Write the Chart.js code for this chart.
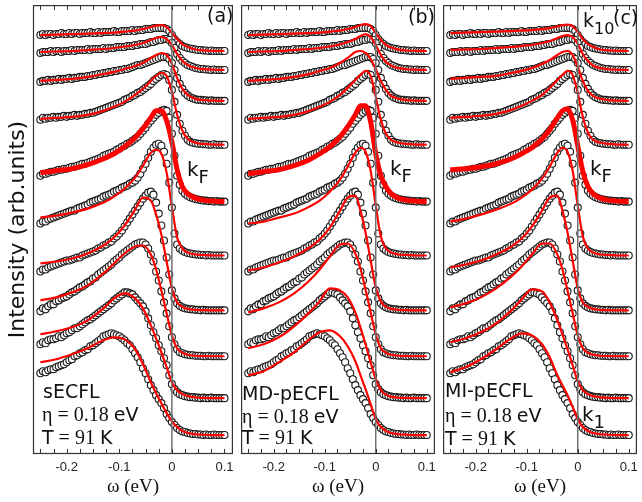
<!DOCTYPE html>
<html><head><meta charset="utf-8">
<script src="https://cdn.jsdelivr.net/npm/chart.js@4.4.1/dist/chart.umd.min.js"></script>
<style>
html,body{margin:0;padding:0;background:#fff;}
#wrap{position:relative;width:642px;height:502px;overflow:hidden;background:#fff;}
canvas{position:absolute;top:0;}
</style></head>
<body><div id="wrap">
<canvas id="ca" width="238" height="502" style="left:0px"></canvas>
<canvas id="cb" width="204" height="502" style="left:236px"></canvas>
<canvas id="cc" width="204" height="502" style="left:438px"></canvas>
</div>
<script>
// energy grid of the measured EDCs (eV)
const omega = [-0.25,-0.245,-0.24,-0.235,-0.23,-0.225,-0.22,-0.215,-0.21,-0.205,-0.2,-0.195,-0.19,-0.185,-0.18,-0.175,-0.17,-0.165,-0.16,-0.155,-0.15,-0.145,-0.14,-0.135,-0.13,-0.125,-0.12,-0.115,-0.11,-0.105,-0.1,-0.095,-0.09,-0.085,-0.08,-0.075,-0.07,-0.065,-0.06,-0.055,-0.05,-0.045,-0.04,-0.035,-0.03,-0.025,-0.02,-0.015,-0.01,-0.005,0,0.005,0.01,0.015,0.02,0.025,0.03,0.035,0.04,0.045,0.05,0.055,0.06,0.065,0.07,0.075,0.08,0.085,0.09,0.095,0.1];

// measured EDC intensities (arb. units), k1 (bottom) .. k10 (top)
const edcK1 = [6.2,6.4,6.3,6.5,6.6,6.6,6.8,6.9,7.0,7.1,7.3,7.5,7.6,7.9,8.0,8.2,8.3,8.5,8.6,8.9,9.0,9.2,9.4,9.6,9.9,10.0,10.1,10.2,10.1,10.0,9.9,9.7,9.5,9.2,9.0,8.6,8.2,7.8,7.3,6.7,6.2,5.6,5.0,4.5,4.0,3.6,3.2,2.7,2.1,1.7,1.3,1.0,0.7,0.5,0.35,0.3,0.2,0.15,0.1,0.1,0.05,0.05,0,0.05,0,0,0.05,0,0,0,0];
const edcK2 = [5.4,5.6,5.5,5.8,5.9,5.9,6.0,6.2,6.1,6.3,6.5,6.6,6.8,7.0,7.0,7.2,7.4,7.6,7.8,7.9,8.1,8.3,8.5,8.7,8.9,9.1,9.3,9.5,9.8,10.0,10.2,10.4,10.6,10.6,10.5,10.4,10.1,9.8,9.5,9.2,8.7,8.0,7.3,6.6,6.0,5.3,4.7,4.0,3.3,2.3,1.4,0.9,0.6,0.4,0.3,0.2,0.15,0.1,0.1,0.05,0.05,0,0.05,0,0,0.05,0,0,0,0,0];
const edcK3 = [4.5,4.8,4.7,5.0,5.2,5.2,5.5,5.6,5.8,5.9,6.0,6.2,6.4,6.5,6.7,6.9,7.0,7.2,7.4,7.5,7.8,7.9,8.2,8.4,8.6,8.8,9.0,9.2,9.5,9.7,9.9,10.2,10.4,10.6,10.8,11.0,11.2,11.3,11.4,11.4,11.2,10.8,10.2,9.5,8.5,7.6,6.5,5.4,4.3,3.0,1.9,1.2,0.7,0.4,0.3,0.2,0.15,0.1,0.1,0.05,0.05,0.05,0,0,0.05,0,0,0,0,0,0];
const edcK4 = [3.9,4.1,4.1,4.3,4.4,4.5,4.6,4.7,4.8,4.9,5.0,5.0,5.1,5.2,5.3,5.3,5.5,5.6,5.7,5.8,5.9,6.0,6.2,6.3,6.5,6.6,6.8,6.9,7.2,7.4,7.7,8.0,8.4,8.8,9.2,9.6,10.0,10.4,10.8,11.2,11.5,11.8,11.9,11.6,10.8,9.7,8.5,7.0,5.3,3.6,2.0,1.2,0.7,0.45,0.3,0.2,0.15,0.1,0.1,0.05,0.05,0,0.05,0,0,0,0,0,0,0,0];
const edcK5 = [3.2,3.4,3.4,3.6,3.7,3.8,3.9,4.0,4.1,4.2,4.3,4.4,4.5,4.5,4.7,4.8,4.9,5.0,5.1,5.3,5.4,5.5,5.6,5.7,5.9,6.0,6.1,6.2,6.4,6.5,6.6,6.8,6.9,7.0,7.2,7.3,7.5,7.8,8.2,8.7,9.2,9.8,10.4,10.8,11.1,11.2,11.0,10.4,9.2,7.3,4.8,2.2,1.1,0.7,0.5,0.35,0.25,0.2,0.15,0.1,0.1,0.05,0.05,0,0.05,0,0,0,0,0,0];
const edcK6 = [2.6,2.8,2.8,2.9,3.0,3.0,3.1,3.2,3.2,3.3,3.3,3.4,3.5,3.5,3.6,3.7,3.8,3.8,3.9,4.0,4.1,4.2,4.3,4.4,4.6,4.7,4.8,4.9,5.0,5.2,5.3,5.5,5.6,5.8,5.9,6.1,6.3,6.5,6.8,7.1,7.4,7.8,8.1,8.4,8.7,8.9,9.1,9.2,9.1,8.4,6.8,4.6,2.6,1.7,1.1,0.8,0.6,0.45,0.35,0.25,0.2,0.15,0.1,0.1,0.05,0.05,0,0.05,0,0,0];
const edcK7 = [2.5,2.7,2.6,2.7,2.7,2.8,2.7,2.8,2.8,2.9,2.8,2.9,2.9,3.0,2.9,3.0,3.0,3.1,3.1,3.2,3.2,3.3,3.4,3.5,3.6,3.7,3.8,3.9,4.0,4.1,4.2,4.3,4.5,4.6,4.7,4.9,5.0,5.2,5.3,5.5,5.7,5.9,6.1,6.4,6.6,6.8,7.0,7.1,7.0,6.5,5.5,4.3,3.0,2.1,1.4,0.9,0.5,0.3,0.2,0.15,0.1,0.1,0.05,0.05,0,0,0.05,0,0,0,0];
const edcK8 = [1.9,2.0,2.0,2.1,2.0,2.1,2.1,2.2,2.1,2.2,2.2,2.3,2.2,2.3,2.3,2.4,2.4,2.4,2.5,2.5,2.6,2.6,2.7,2.7,2.8,2.8,2.9,2.9,3.0,3.0,3.1,3.1,3.2,3.2,3.3,3.4,3.5,3.6,3.6,3.7,3.8,3.9,4.0,4.1,4.2,4.3,4.4,4.4,4.4,4.2,3.8,3.1,2.3,1.7,1.2,0.8,0.55,0.35,0.25,0.15,0.1,0.1,0.05,0.05,0,0.05,0,0,0,0,0];
const edcK9 = [1.7,1.8,1.8,1.8,1.9,1.8,1.9,1.9,1.8,1.9,1.9,1.9,2.0,1.9,2.0,2.0,2.0,2.0,2.1,2.0,2.1,2.1,2.1,2.1,2.2,2.1,2.2,2.2,2.2,2.3,2.3,2.3,2.3,2.4,2.4,2.4,2.5,2.5,2.6,2.6,2.6,2.7,2.8,2.8,2.9,3.0,3.0,3.1,3.1,3.0,2.7,2.2,1.6,1.2,0.9,0.7,0.5,0.4,0.3,0.2,0.15,0.1,0.1,0.05,0.05,0,0.05,0,0,0,0];
const edcK10 = [1.6,1.7,1.6,1.7,1.7,1.6,1.7,1.7,1.8,1.7,1.7,1.8,1.7,1.8,1.8,1.7,1.8,1.8,1.8,1.9,1.8,1.8,1.9,1.8,1.9,1.9,1.9,1.9,2.0,1.9,1.9,2.0,2.0,2.0,2.0,2.1,2.0,2.1,2.1,2.1,2.2,2.2,2.2,2.3,2.3,2.3,2.3,2.3,2.2,2.0,1.6,1.2,0.9,0.7,0.5,0.4,0.3,0.25,0.2,0.15,0.1,0.1,0.05,0.05,0,0.05,0,0,0,0,0];

// vertical offsets of the stacked EDCs
const offsets = [1.9,5.6,9.8,14.4,19.9,25.3,31.0,35.4,38.5,40.4];

// energy grid of the theory curves
const fitOmega = [-0.25,-0.22,-0.19,-0.16,-0.13,-0.11,-0.09,-0.07,-0.055,-0.04,-0.03,-0.02,-0.01,0,0.01,0.02,0.03,0.045,0.06,0.08,0.1];

// (a) sECFL fits
const fitA1 = [7.3,7.6,8.1,8.7,9.5,9.8,9.6,8.6,7.1,5.3,4.2,3.2,2.2,1.4,0.8,0.4,0.2,0.08,0.03,0,0];
const fitA2 = [6.4,6.7,7.1,7.8,9.0,10.0,10.5,10.0,9.0,7.3,6.0,4.6,3.1,1.6,0.8,0.4,0.2,0.08,0.03,0,0];
const fitA3 = [5.6,5.9,6.4,7.1,8.3,9.3,10.3,11.0,11.1,10.2,8.7,6.6,4.3,2.1,0.8,0.35,0.15,0.05,0.02,0,0];
const fitA4 = [4.7,4.9,5.2,5.7,6.5,7.3,8.5,10.1,11.3,11.0,9.6,7.6,4.9,2.2,0.8,0.35,0.15,0.05,0.02,0,0];
const fitA5 = [3.8,4.0,4.3,4.7,5.3,5.9,6.7,7.8,9.0,10.3,10.6,10.2,8.3,4.9,1.8,0.7,0.3,0.1,0.05,0,0];
const fitA6 = [2.9,3.1,3.3,3.7,4.3,4.8,5.5,6.4,7.3,8.4,9.1,9.1,8.1,6.0,3.2,1.5,0.8,0.35,0.15,0.05,0];
const fitA7 = [2.6,2.7,2.8,3.0,3.4,3.8,4.3,5.0,5.6,6.4,6.9,7.2,6.9,5.3,3.0,1.4,0.6,0.2,0.08,0.02,0];
const fitA8 = [2.0,2.1,2.2,2.4,2.7,2.9,3.2,3.5,3.8,4.3,4.6,4.8,4.6,3.7,2.3,1.2,0.6,0.2,0.08,0.02,0];
const fitA9 = [1.8,1.85,1.9,2.0,2.1,2.2,2.35,2.5,2.7,3.0,3.2,3.3,3.1,2.5,1.6,0.9,0.5,0.2,0.08,0.02,0];
const fitA10 = [1.6,1.65,1.7,1.75,1.8,1.85,1.95,2.05,2.2,2.4,2.55,2.6,2.4,1.8,1.2,0.7,0.4,0.15,0.06,0.02,0];

// (b) MD-pECFL fits
const fitB1 = [6.0,6.4,7.3,8.3,9.6,10.3,10.5,9.9,8.9,7.4,6.0,4.6,3.1,1.6,0.8,0.4,0.2,0.08,0.03,0,0];
const fitB2 = [5.0,5.4,6.1,7.2,8.6,9.7,11.0,10.8,10.1,8.6,7.1,5.4,3.6,1.9,0.8,0.35,0.15,0.05,0.02,0,0];
const fitB3 = [4.4,4.8,5.4,6.3,7.6,8.7,10.0,11.2,11.3,10.3,8.8,6.7,4.4,2.2,0.8,0.35,0.15,0.05,0.02,0,0];
const fitB4 = [4.0,4.3,4.8,5.4,6.3,7.1,8.3,10.0,11.3,11.5,10.0,7.8,5.0,2.3,0.9,0.35,0.15,0.05,0.02,0,0];
const fitB5 = [3.2,3.4,3.8,4.2,4.9,5.5,6.4,7.6,8.9,10.3,10.8,10.4,8.5,5.0,1.9,0.7,0.3,0.1,0.05,0,0];
const fitB6 = [2.8,3.0,3.2,3.6,4.2,4.8,5.5,6.5,7.5,8.7,9.6,9.6,8.0,4.8,2.6,1.5,0.8,0.35,0.15,0.05,0];
const fitB7 = [2.6,2.7,2.8,3.0,3.4,3.8,4.3,5.0,5.7,6.5,7.0,7.4,6.9,4.8,2.5,1.1,0.5,0.2,0.08,0.02,0];
const fitB8 = [2.0,2.1,2.2,2.4,2.7,3.0,3.3,3.8,4.3,4.9,5.0,4.8,4.2,3.2,2.0,1.1,0.5,0.2,0.08,0.02,0];
const fitB9 = [1.8,1.85,1.9,2.0,2.1,2.2,2.35,2.55,2.8,3.1,3.4,3.6,3.3,2.5,1.5,0.8,0.45,0.18,0.07,0.02,0];
const fitB10 = [1.6,1.65,1.7,1.75,1.8,1.85,1.95,2.05,2.2,2.4,2.6,2.7,2.5,1.8,1.1,0.6,0.35,0.14,0.05,0.02,0];

// (c) MI-pECFL fits
const fitC1 = [6.3,6.8,7.6,8.6,9.7,10.2,10.0,9.1,7.8,6.0,5.0,4.0,2.8,1.6,0.8,0.4,0.2,0.08,0.03,0,0];
const fitC2 = [5.6,6.0,6.6,7.5,8.8,9.9,10.9,10.7,9.6,7.8,6.4,4.9,3.3,1.7,0.8,0.4,0.2,0.08,0.03,0,0];
const fitC3 = [4.9,5.3,5.9,6.8,8.0,9.0,10.2,11.3,11.3,10.2,8.7,6.6,4.3,2.1,0.8,0.35,0.15,0.05,0.02,0,0];
const fitC4 = [4.3,4.6,5.0,5.6,6.4,7.2,8.4,10.0,11.3,11.5,10.0,7.8,5.0,2.2,0.8,0.35,0.15,0.05,0.02,0,0];
const fitC5 = [3.4,3.7,4.1,4.6,5.2,5.8,6.6,7.7,8.9,10.3,10.8,10.4,8.5,5.0,1.9,0.7,0.3,0.1,0.05,0,0];
const fitC6 = [3.2,3.3,3.5,3.8,4.3,4.8,5.4,6.3,7.2,8.4,9.1,9.3,8.2,5.6,3.0,1.5,0.8,0.35,0.15,0.05,0];
const fitC7 = [2.7,2.8,2.9,3.1,3.5,3.9,4.4,5.0,5.7,6.5,7.0,7.4,7.0,5.2,2.8,1.2,0.5,0.2,0.08,0.02,0];
const fitC8 = [2.2,2.3,2.4,2.5,2.8,3.0,3.3,3.7,4.1,4.6,4.9,5.0,4.6,3.4,2.0,1.0,0.5,0.2,0.08,0.02,0];
const fitC9 = [2.0,2.05,2.1,2.2,2.3,2.4,2.5,2.7,2.9,3.2,3.4,3.5,3.3,2.6,1.6,0.9,0.45,0.18,0.07,0.02,0];
const fitC10 = [1.8,1.85,1.9,1.95,2.0,2.05,2.1,2.2,2.3,2.45,2.6,2.65,2.5,1.9,1.2,0.7,0.4,0.15,0.06,0.02,0];

// axis ticks
const xTickValues = [-0.2,-0.1,0,0.1];
const xTickLabels = ['-0.2','-0.1','0','0.1'];
const minorTicks = [-0.25,-0.225,-0.2,-0.175,-0.15,-0.125,-0.1,-0.075,-0.05,-0.025,0,0.025,0.05,0.075,0.1];

const edcSet = [edcK1,edcK2,edcK3,edcK4,edcK5,edcK6,edcK7,edcK8,edcK9,edcK10];
const fitsA = [fitA1,fitA2,fitA3,fitA4,fitA5,fitA6,fitA7,fitA8,fitA9,fitA10];
const fitsB = [fitB1,fitB2,fitB3,fitB4,fitB5,fitB6,fitB7,fitB8,fitB9,fitB10];
const fitsC = [fitC1,fitC2,fitC3,fitC4,fitC5,fitC6,fitC7,fitC8,fitC9,fitC10];
const kFIndex = 5;

function buildDatasets(fits){
  const ds = [];
  fits.forEach((f,k)=>{
    ds.push({type:'line', showLine:true, data: fitOmega.map((w,i)=>({x:w, y:offsets[k]+f[i]})),
      borderColor:'#ff0000', borderWidth: k===kFIndex?5:2.2, pointRadius:0, fill:false,
      cubicInterpolationMode:'monotone', order:0});
  });
  edcSet.forEach((e,k)=>{
    ds.push({type:'scatter', showLine:false, data: omega.map((w,i)=>({x:w, y:offsets[k]+e[i]})),
      pointRadius:3.5, pointBorderWidth:1.1, pointBorderColor:'#1a1a1a', pointBackgroundColor:'#ffffff', order:1});
  });
  return ds;
}

const SANS = '"DejaVu Sans"';
const SERIF = '"Liberation Serif"';
function etaRuns(){ return [{t:'η',f:'20px '+SERIF},{t:' = 0.18 ',f:'20px '+SERIF},{t:'eV',f:'19px '+SANS}]; }
function tRuns(){ return [{t:'T',f:'19px '+SANS},{t:' = 91 ',f:'20px '+SERIF},{t:'K',f:'19px '+SANS}]; }
function kRuns(sub){ return [{t:'k',f:'20px '+SANS},{t:sub,f:'18px '+SANS,dy:7}]; }

const decor = {
  id:'decor',
  afterDatasetsDraw(chart, args, opts){
    const {ctx, chartArea:a} = chart; const x = chart.scales.x;
    ctx.save();
    const x0 = x.getPixelForValue(0);
    ctx.strokeStyle='#707070'; ctx.lineWidth=1.5;
    ctx.beginPath(); ctx.moveTo(x0,a.top); ctx.lineTo(x0,a.bottom); ctx.stroke();
    ctx.strokeStyle='#333'; ctx.lineWidth=1.2;
    ctx.strokeRect(a.left+0.5, a.top+0.5, a.right-a.left-1, a.bottom-a.top-1);
    ctx.lineWidth=1;
    minorTicks.forEach(v=>{
      const px = Math.round(x.getPixelForValue(v))+0.5;
      ctx.beginPath(); ctx.moveTo(px,a.bottom); ctx.lineTo(px,a.bottom-5);
      ctx.moveTo(px,a.top); ctx.lineTo(px,a.top+5); ctx.stroke();
    });
    ctx.fillStyle='#111'; ctx.textBaseline='alphabetic'; ctx.textAlign='left';
    (opts.labels||[]).forEach(lab=>{
      let cx = lab.x - opts.shift;
      lab.runs.forEach(r=>{ ctx.font=r.f; ctx.fillText(r.t, cx, lab.y+(r.dy||0)); cx += ctx.measureText(r.t).width; });
    });
    ctx.restore();
  }
};

function makeChart(id, fits, pad, withY, shift, labels){
  const yScale = {min:0, max:45, display:withY, grid:{display:false, drawTicks:false}, border:{display:false}, ticks:{display:false},
    title:{display:withY, text:'Intensity (arb.units)', color:'#111', font:{family:'DejaVu Sans', size:22}, padding:{top:5,bottom:0}}};
  if (withY) yScale.afterFit = (s)=>{ s.width = 33; };
  return new Chart(document.getElementById(id), {
    type:'scatter',
    data:{datasets: buildDatasets(fits)},
    options:{
      responsive:false, animation:false, events:[],
      layout:{padding:pad},
      plugins:{legend:{display:false}, tooltip:{enabled:false}, decor:{labels:labels, shift:shift}},
      scales:{
        x:{type:'linear', min:-0.264, max:0.116, grid:{display:false, drawTicks:false}, border:{display:false},
           afterBuildTicks:(s)=>{ s.ticks = xTickValues.map(v=>({value:v})); },
           ticks:{autoSkip:false, maxRotation:0, padding:6, color:'#222',
                  font:{family:'Liberation Sans', size:13}, callback:(v,i)=>xTickLabels[i]},
           title:{display:true, text:'ω (eV)', color:'#111', font:{family:'Liberation Serif', size:19}, padding:{top:0,bottom:4}},
           afterFit:(s)=>{ s.height = 48; s.paddingLeft = 0; s.paddingRight = 0; }
        },
        y: yScale
      }
    },
    plugins:[decor]
  });
}

makeChart('ca', fitsA, {left:0,right:2,top:4,bottom:0}, true, 0, [
  {x:207,y:22,runs:[{t:'(a)',f:'19px '+SANS}]},
  {x:187,y:176,runs:kRuns('F')},
  {x:43,y:398,runs:[{t:'sECFL',f:'19px '+SANS}]},
  {x:42,y:421,runs:etaRuns()},
  {x:42,y:444,runs:tRuns()}
]);
makeChart('cb', fitsB, {left:1,right:2,top:4,bottom:0}, false, 236, [
  {x:408,y:23,runs:[{t:'(b)',f:'19px '+SANS}]},
  {x:390,y:175,runs:kRuns('F')},
  {x:242,y:400,runs:[{t:'MD-pECFL',f:'19px '+SANS}]},
  {x:242,y:423,runs:etaRuns()},
  {x:242,y:444,runs:tRuns()}
]);
makeChart('cc', fitsC, {left:1,right:2,top:4,bottom:0}, false, 438, [
  {x:613,y:24,runs:[{t:'(c)',f:'19px '+SANS}]},
  {x:583,y:27,runs:[{t:'k',f:'19px '+SANS},{t:'10',f:'16px '+SANS,dy:7}]},
  {x:590,y:175,runs:kRuns('F')},
  {x:445,y:397,runs:[{t:'MI-pECFL',f:'19px '+SANS}]},
  {x:445,y:422,runs:etaRuns()},
  {x:445,y:445,runs:tRuns()},
  {x:582,y:421,runs:kRuns('1')}
]);
</script>
</body></html>
